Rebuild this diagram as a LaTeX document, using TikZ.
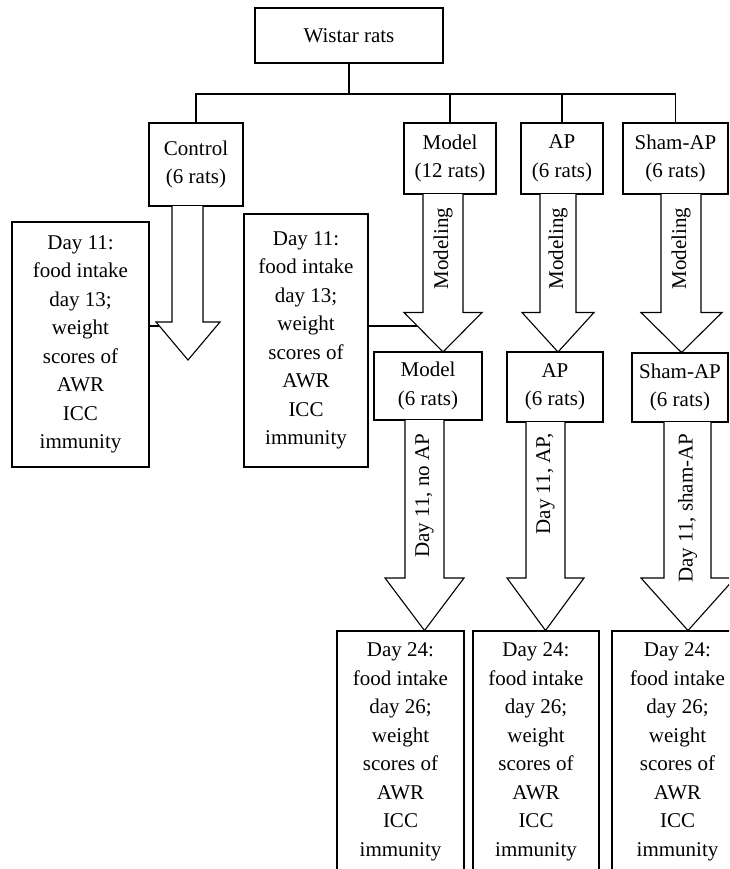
\documentclass[tikz,border=0pt]{standalone}
\usepackage{fontspec}
\setmainfont{Liberation Serif}
\begin{document}
\begin{tikzpicture}[x=1pt,y=-1pt,line width=1.1pt,
  box/.style={draw, inner sep=0pt, align=center, font=\fontsize{21}{28.5}\selectfont},
  lbl/.style={inner sep=0pt, rotate=90, anchor=east, font=\fontsize{21}{25}\selectfont},
  blk/.style={draw, fill=white, line join=miter}]
\useasboundingbox (0,0) rectangle (729,869);
\clip (0,0) rectangle (729,869);

% top boxes
\node[box, minimum width=188, minimum height=55] (w) at (349,35.5) {Wistar rats};
\node[box, minimum width=94, minimum height=83] (ctrl) at (196,164.5) {Control\\(6 rats)};
\node[box, minimum width=92, minimum height=71] (m12) at (450,158.5) {Model\\(12 rats)};
\node[box, minimum width=82, minimum height=71] (ap12) at (562,158.5) {AP\\(6 rats)};
\node[box, minimum width=105, minimum height=71] (sh12) at (675.5,158.5) {Sham-AP\\(6 rats)};

% tree
\coordinate (bus) at (0,94);
\draw (w.south) -- (w.south |- bus);
\draw (ctrl.north) |- (sh12.north |- bus) -- (sh12.north);
\draw (m12.north) -- (m12.north |- bus);
\draw (ap12.north) -- (ap12.north |- bus);

% middle boxes
\node[box, minimum width=108, minimum height=68] (m6) at (428,386) {Model\\(6 rats)};
\node[box, minimum width=96, minimum height=70] (ap6) at (555,387) {AP\\(6 rats)};
\node[box, minimum width=96, minimum height=69] (sh6) at (680,387.5) {Sham-AP\\(6 rats)};

% day 11 boxes
\node[box, minimum width=137, minimum height=245] (d11a) at (80.5,344.5)
  {Day 11:\\food intake\\day 13;\\weight\\scores of\\AWR\\ICC\\immunity};
\node[box, minimum width=124, minimum height=253] (d11b) at (306,340.5)
  {Day 11:\\food intake\\day 13;\\weight\\scores of\\AWR\\ICC\\immunity};

% day 24 boxes
\node[box, minimum width=127, minimum height=242] (d24a) at (400.5,752)
  {Day 24:\\food intake\\day 26;\\weight\\scores of\\AWR\\ICC\\immunity};
\node[box, minimum width=126, minimum height=242] (d24b) at (536,752)
  {Day 24:\\food intake\\day 26;\\weight\\scores of\\AWR\\ICC\\immunity};
\node[box, minimum width=131, minimum height=242] (d24c) at (677.5,752)
  {Day 24:\\food intake\\day 26;\\weight\\scores of\\AWR\\ICC\\immunity};

% connectors to arrow heads
\coordinate (ch) at (159,326);
\coordinate (mh) at (417,326);
\draw (d11a.east |- ch) -- (ch);
\draw (d11b.east |- mh) -- (mh);

% block arrows
\draw[blk] (172,206) -- (172,322) -- (156,322) -- (188,360) -- (220,322) -- (203,322) -- (203,206);
\draw[blk] (423,194) -- (423,312.5) -- (404,312.5) -- (443,352) -- (482,312.5) -- (463,312.5) -- (463,194);
\draw[blk] (540,194) -- (540,312.5) -- (522,312.5) -- (558,352) -- (594,312.5) -- (576,312.5) -- (576,194);
\draw[blk] (661,194) -- (661,312.5) -- (641,312.5) -- (681.5,352.5) -- (722,312.5) -- (701,312.5) -- (701,194);
\draw[blk] (405,420) -- (405,578) -- (385,578) -- (424.5,630.5) -- (464,578) -- (444,578) -- (444,420);
\draw[blk] (526,422) -- (526,578) -- (507,578) -- (545.5,630.5) -- (584,578) -- (565,578) -- (565,422);
\draw[blk] (664,422) -- (664,578) -- (641,578) -- (688,630.5) -- (735,578) -- (711,578) -- (711,422);

% arrow labels
\node[lbl] (lm1) at (443,207) {Modeling};
\node[lbl] (lm2) at (558,207) {Modeling};
\node[lbl] (lm3) at (681,207) {Modeling};
\node[lbl] (ln1) at (424.5,433) {Day 11, no AP};
\node[lbl] (ln2) at (545.5,433) {Day 11, AP,};
\node[lbl] (ln3) at (687.5,433) {Day 11, sham-AP};
\end{tikzpicture}
\end{document}
